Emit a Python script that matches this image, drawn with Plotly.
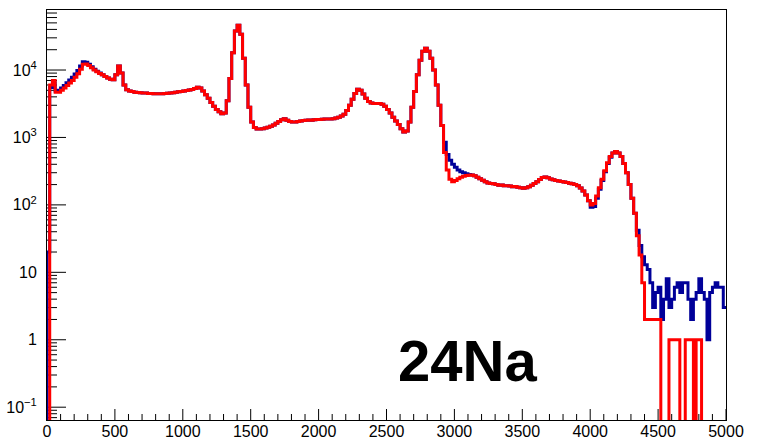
import numpy as np
import plotly.graph_objects as go

# Spectrum binning: 250 bins of 20 channels from 0 to 5000
bin_width = 20
bin_edges = list(range(0, 5001, bin_width))

# Counts per bin, blue spectrum (rows of 10 bins = 200 channels)
counts_blue = [
    20, 5500, 6500, 4900, 5000, 5400, 5900, 6500, 7100, 7800,
    8700, 9800, 11500, 13300, 13000, 12200, 11200, 10300, 9600, 9000,
    8500, 8000, 7600, 7300, 7200, 8500, 11500, 9000, 6000, 5100,
    4900, 4800, 4700, 4650, 4600, 4580, 4550, 4500, 4480, 4450,
    4450, 4440, 4460, 4500, 4520, 4580, 4620, 4680, 4750, 4820,
    4900, 4950, 5050, 5150, 5300, 5550, 5400, 4900, 4300, 3800,
    3300, 2900, 2600, 2400, 2250, 2300, 3500, 7500, 18000, 38000,
    46000, 34000, 15000, 6000, 2800, 1700, 1400, 1330, 1330, 1350,
    1380, 1420, 1470, 1530, 1620, 1720, 1830, 1900, 1800, 1720,
    1700, 1700, 1730, 1760, 1780, 1800, 1820, 1800, 1830, 1850,
    1850, 1860, 1880, 1870, 1880, 1900, 1940, 2000, 2080, 2200,
    2500, 3000, 3700, 4500, 5200, 5000, 4400, 3800, 3400, 3250,
    3200, 3200, 3180, 3100, 2900, 2600, 2300, 2000, 1750, 1550,
    1350, 1200, 1250, 1700, 2800, 4800, 8500, 14000, 19000, 21000,
    19000, 15000, 10000, 6000, 3000, 1500, 850, 560, 460, 400,
    360, 330, 310, 300, 290, 282, 278, 270, 258, 245,
    232, 220, 212, 208, 205, 200, 196, 198, 193, 192,
    190, 186, 188, 183, 180, 176, 180, 186, 195, 208,
    220, 238, 255, 260, 252, 242, 235, 230, 226, 222,
    218, 214, 210, 206, 200, 192, 178, 160, 140, 115,
    92, 95, 125, 170, 230, 310, 410, 510, 590, 620,
    590, 520, 410, 300, 200, 125, 75, 42, 25, 17,
    13, 11, 7, 3, 5, 6, 2, 4, 8, 3,
    4, 6, 7, 5, 7, 7, 4, 2, 4, 5,
    8, 5, 4, 1, 5, 6, 7, 6, 6, 3,
]

# Counts per bin, red spectrum
counts_red = [
    0, 6000, 7000, 4700, 4700, 5000, 5400, 5900, 6400, 7000,
    7800, 8800, 10300, 12200, 12300, 11700, 10800, 10000, 9400, 8900,
    8500, 8000, 7600, 7300, 7200, 8500, 11500, 9000, 6000, 5100,
    4900, 4800, 4700, 4650, 4600, 4580, 4550, 4500, 4480, 4450,
    4450, 4440, 4460, 4500, 4520, 4580, 4620, 4680, 4750, 4820,
    4900, 4950, 5050, 5150, 5300, 5550, 5400, 4900, 4300, 3800,
    3300, 2900, 2600, 2400, 2250, 2300, 3500, 7500, 18000, 38000,
    46000, 34000, 15000, 6000, 2800, 1700, 1400, 1330, 1330, 1350,
    1380, 1420, 1470, 1530, 1620, 1720, 1830, 1900, 1800, 1720,
    1700, 1700, 1730, 1760, 1780, 1800, 1820, 1800, 1830, 1850,
    1850, 1860, 1880, 1870, 1880, 1900, 1940, 2000, 2080, 2200,
    2500, 3000, 3700, 4500, 5200, 5000, 4400, 3800, 3400, 3250,
    3200, 3200, 3180, 3100, 2900, 2600, 2300, 2000, 1750, 1550,
    1350, 1200, 1250, 1700, 2800, 4800, 8500, 14000, 19000, 21000,
    19000, 15000, 10000, 6000, 3000, 1500, 600, 330, 240, 220,
    230, 245, 258, 265, 272, 276, 278, 270, 258, 245,
    232, 220, 212, 208, 205, 200, 196, 198, 193, 192,
    190, 186, 188, 183, 180, 176, 180, 186, 195, 208,
    220, 238, 255, 260, 252, 242, 235, 230, 226, 222,
    218, 214, 210, 206, 200, 192, 178, 160, 140, 115,
    100, 105, 135, 180, 240, 320, 420, 520, 590, 620,
    590, 520, 410, 300, 200, 125, 75, 35, 18, 7,
    2, 2, 2, 2, 2, 2, 0, 0, 0, 1,
    1, 1, 1, 0, 0, 1, 1, 1, 0, 1,
    1, 0, 0, 0, 0, 0, 0, 0, 0, 0,
]

assert len(counts_blue) == len(bin_edges) - 1
assert len(counts_red) == len(bin_edges) - 1

# Axis ticks
x_ticks = list(range(0, 5001, 500))
x_minor_ticks = [v for v in range(0, 5001, 100) if v % 500]
y_tick_vals = [0.1, 1, 10, 100, 1000, 10000]
y_tick_text = ["10<sup>\u22121</sup>", "1", "10", "10<sup>2</sup>", "10<sup>3</sup>", "10<sup>4</sup>"]

X_RANGE = [0, 5000]
Y_RANGE = [-1.19, 4.89]          # log10 of the visible count range
PLOT_W, PLOT_H = 679, 410        # plot area in pixels
y_minor_vals = [m * 10.0 ** e for e in range(-2, 5) for m in range(2, 10)
                if Y_RANGE[0] <= np.log10(m * 10.0 ** e) <= Y_RANGE[1]]

FLOOR = 1e-3  # empty bins drop below the visible range on the log axis


def step_xy(edges, counts):
    """Histogram outline: rises from the floor at the first edge, one flat step per bin."""
    ys = [c if c > 0 else FLOOR for c in counts]
    xs = [edges[0]] + list(edges[:-1]) + [edges[-1]]
    ys = [FLOOR] + ys + [ys[-1]]
    return xs, ys


def tick_shapes():
    """Inward tick marks along the bottom (linear) and left (log) axes."""
    shapes = []
    tick_line = dict(color="black", width=1)
    for ticks, length in ((x_ticks, 11), (x_minor_ticks, 6)):
        for t in ticks:
            shapes.append(dict(type="line", xref="x", yref="paper", x0=t, x1=t,
                               y0=0, y1=length / PLOT_H, line=tick_line, layer="below"))
    for ticks, length in ((y_tick_vals, 19), (y_minor_vals, 10)):
        for t in ticks:
            frac = (np.log10(t) - Y_RANGE[0]) / (Y_RANGE[1] - Y_RANGE[0])
            shapes.append(dict(type="line", xref="paper", yref="paper", x0=0, x1=length / PLOT_W,
                               y0=frac, y1=frac, line=tick_line, layer="below"))
    return shapes


fig = go.Figure()

xb, yb = step_xy(bin_edges, counts_blue)
fig.add_trace(go.Scatter(x=xb, y=yb, mode="lines", line=dict(color="#000099", width=3, shape="hv"),
                         hoverinfo="skip", showlegend=False))
xr, yr = step_xy(bin_edges, counts_red)
fig.add_trace(go.Scatter(x=xr, y=yr, mode="lines", line=dict(color="#ff0000", width=3, shape="hv"),
                         hoverinfo="skip", showlegend=False))

font_axis = dict(family="Liberation Sans, Arial, sans-serif", size=16, color="black")

fig.update_layout(
    width=757, height=441, autosize=False,
    margin=dict(l=47, r=31, t=10, b=21, pad=0, autoexpand=False),
    paper_bgcolor="white", plot_bgcolor="white",
    xaxis=dict(
        range=X_RANGE, tickmode="array", tickvals=x_ticks, ticks="", automargin=False,
        showgrid=False, zeroline=False,
        showline=True, linecolor="black", linewidth=1, mirror=True,
        tickfont=font_axis, ticklabelstandoff=-3,
    ),
    yaxis=dict(
        type="log", range=Y_RANGE, tickmode="array", tickvals=y_tick_vals, ticktext=y_tick_text,
        ticks="", automargin=False, showgrid=False, zeroline=False,
        showline=True, linecolor="black", linewidth=1, mirror=True,
        tickfont=font_axis, ticklabelstandoff=6,
    ),
    shapes=tick_shapes(),
    annotations=[dict(
        x=3100, y=np.log10(0.5), xref="x", yref="y", text="<b>24Na</b>", showarrow=False,
        font=dict(family="Liberation Sans, Arial, sans-serif", size=58, color="black"),
        xanchor="center", yanchor="middle",
    )],
)

fig.write_html("out.html")
